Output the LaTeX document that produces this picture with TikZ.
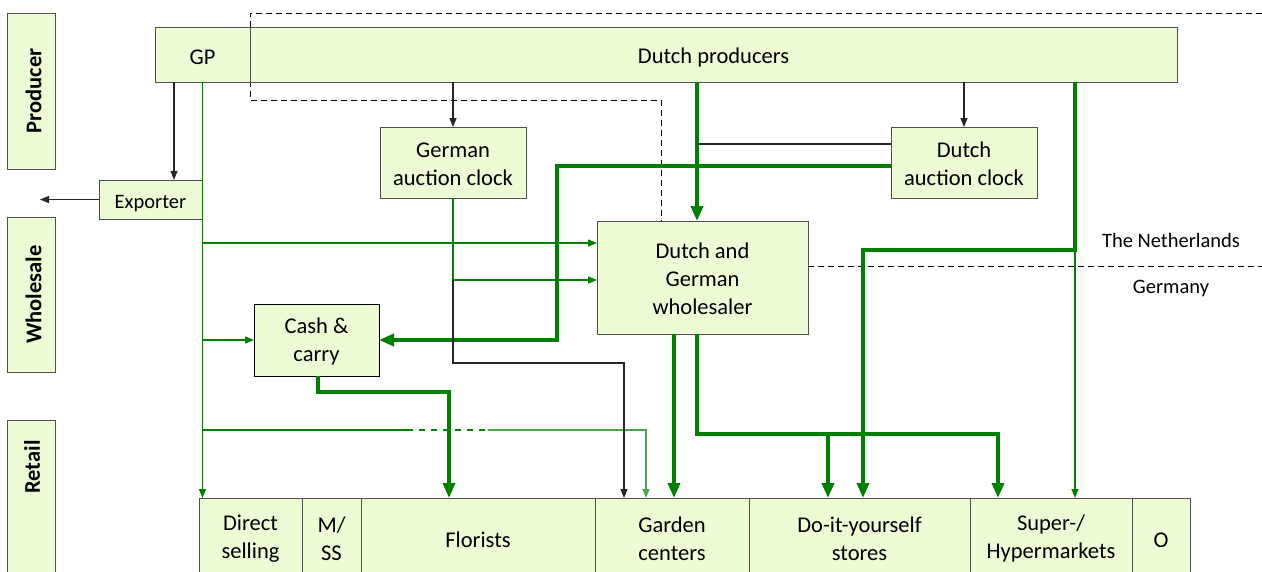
\documentclass[tikz,border=0pt]{standalone}
\usepackage{fontspec}
\setmainfont{Carlito}
\usetikzlibrary{arrows.meta,calc}
\definecolor{boxfill}{RGB}{238,252,214}
\definecolor{boxline}{RGB}{80,80,80}
\definecolor{flow}{RGB}{0,128,0}
\definecolor{flowlight}{RGB}{80,165,80}
\newcommand{\toplift}{\rule{0pt}{18.5pt}}
\begin{document}
\begin{tikzpicture}[x=1pt,y=-1pt,
  box/.style={draw=boxline,fill=boxfill,line width=1pt,inner sep=0pt,outer sep=0pt,align=center,font=\fontsize{22.5}{28}\selectfont,
    execute at begin node={\rule{0pt}{21pt}}},
  sidebox/.style={box,rotate=90,font=\fontsize{22.5}{28}\selectfont\bfseries},
  sidetext/.style={inner sep=0pt,rotate=90,font=\fontsize{22.5}{28}\selectfont\bfseries},
  smalltext/.style={inner sep=0pt,font=\fontsize{20.5}{24}\selectfont},
  thinflow/.style={draw=flow,line width=1.2pt},
  thinarrow/.style={thinflow,-{Triangle[length=9pt,width=7pt]}},
  lightarrow/.style={draw=flowlight,line width=1.4pt,-{Triangle[length=9pt,width=7pt]}},
  thickflow/.style={draw=flow,line width=3.5pt},
  thickarrow/.style={thickflow,-{Triangle[length=15pt,width=12pt]}},
  blkline/.style={draw=black!85,line width=1.2pt},
  blkarrow/.style={blkline,-{Triangle[length=9pt,width=7pt]}},
  dashline/.style={draw=black,line width=1pt,dash pattern=on 6pt off 4pt}
]
\useasboundingbox (0,0) rectangle (1262,571);
\clip (0,0) rectangle (1262,571);

% helper coordinates
\coordinate (ytop) at (0,13);
\coordinate (y100) at (0,100);
\coordinate (y144) at (0,144);
\coordinate (y166) at (0,166);
\coordinate (y243) at (0,243);
\coordinate (y250) at (0,250);
\coordinate (y266) at (0,266);
\coordinate (y280) at (0,280);
\coordinate (y363) at (0,363);
\coordinate (y392) at (0,392);
\coordinate (y430) at (0,430);
\coordinate (y434) at (0,434);
\coordinate (xA) at (174,0);
\coordinate (x318) at (318,0);
\coordinate (x449) at (449,0);
\coordinate (x557) at (557,0);
\coordinate (x624) at (624,0);
\coordinate (x646) at (646,0);
\coordinate (x661) at (661,0);
\coordinate (x674) at (674,0);
\coordinate (xW) at (697,0);
\coordinate (x828) at (828,0);
\coordinate (x863) at (863,0);
\coordinate (x998) at (998,0);
\coordinate (x1075) at (1075,0);
\coordinate (xR) at (1262,0);
\coordinate (expout) at (40,199.5);
\coordinate (d1) at (407,430);
\coordinate (d2) at (488,430);

% side labels
\node[sidebox,minimum width=156pt,minimum height=48pt] (prod) at (31,91) {Producer};
\node[sidebox,minimum width=155pt,minimum height=48pt] (whol) at (31,294.5) {Wholesale};
\node[sidebox,minimum width=180pt,minimum height=48pt] (ret) at (31,510) {};
\node[sidetext] (rettext) at (32,467) {Retail};

% dashed borders
\draw[dashline] (xR |- ytop) -- (250,13) -- (250,100) -- (x661 |- y100) -- (661,221);

% boxes
\node[box,minimum width=95pt,minimum height=55pt] (GP) at (202.5,54.5) {GP};
\node[box,minimum width=927pt,minimum height=55pt] (DP) at (713.5,54.5) {Dutch producers};
\node[box,minimum width=103pt,minimum height=39pt,font=\fontsize{20.5}{24}\selectfont] (EXP) at (150.5,199.5) {Exporter};
\node[box,minimum width=146pt,minimum height=71pt] (GAC) at (453,162.5) {\toplift German\\auction clock};
\node[box,minimum width=146pt,minimum height=71pt] (DAC) at (964,162.5) {\toplift Dutch\\auction clock};
\node[box,minimum width=211pt,minimum height=113pt] (WS) at (702.5,277.5) {\toplift Dutch and\\German\\wholesaler};
\node[box,draw=black,minimum width=125pt,minimum height=72pt] (CC) at (316.5,340) {\toplift Cash \&\\carry};

\node[box,minimum width=103pt,minimum height=79pt] (DS) at (250.5,537.5) {\toplift Direct\\selling};
\node[box,minimum width=59pt,minimum height=79pt] (MSS) at (331.5,537.5) {\toplift M/\\SS};
\node[box,minimum width=234pt,minimum height=79pt] (FL) at (478,537.5) {Florists};
\node[box,minimum width=154pt,minimum height=79pt] (GC) at (672,537.5) {\toplift Garden\\centers};
\node[box,minimum width=221pt,minimum height=79pt] (DIY) at (859.5,537.5) {\toplift Do-it-yourself\\stores};
\node[box,minimum width=162pt,minimum height=79pt] (SH) at (1051,537.5) {\toplift Super-/\\Hypermarkets};
\node[box,minimum width=58pt,minimum height=79pt] (O) at (1161,537.5) {O};

% country labels and border
\draw[dashline] (WS.east |- y266) -- (xR |- y266);
\node[smalltext] (NL) at (1171,240) {The Netherlands};
\node[smalltext] (DE) at (1171,288) {Germany};

% GP and exporter
\draw[blkarrow] (GP.south -| xA) -- (EXP.north -| xA);
\draw[blkarrow] (EXP.west) -- (expout);
\draw[thinarrow] (GP.south) -- (GP.south |- DS.north);
\draw[thinarrow] (GP.south |- y243) -- (WS.west |- y243);
\draw[thinarrow] (GP.south |- CC.west) -- (CC.west);
\draw[thinflow] (GP.south |- y430) -- (d1);
\draw[thinflow,dash pattern=on 6pt off 6pt] (d1) -- (d2);
\draw[lightarrow] (d2) -| (x646 |- GC.north);

% producers to auction clocks and wholesaler
\draw[blkarrow] (DP.south -| GAC.north) -- (GAC.north);
\draw[blkarrow] (DP.south -| DAC.north) -- (DAC.north);
\draw[thickarrow] (DP.south -| xW) -- (WS.north -| xW);
\draw[blkline] (DAC.west |- y144) -- (xW |- y144);
\draw[thickarrow] (DAC.west |- y166) -| (x557 |- CC.east) -- (CC.east);
\draw[thinarrow] (DP.south -| x1075) -- (SH.north -| x1075);
\draw[thickarrow] (DP.south -| x1075) -- (x1075 |- y250) -| (x863 |- DIY.north);

% German auction clock
\draw[thinflow] (GAC.south) -- (GAC.south |- y280);
\draw[thinarrow] (GAC.south |- y280) -- (WS.west |- y280);
\draw[blkarrow] (GAC.south |- y280) -- (GAC.south |- y363) -| (x624 |- GC.north);

% cash & carry and wholesaler to retail
\draw[thickarrow] (CC.south -| x318) -- (x318 |- y392) -| (x449 |- FL.north);
\draw[thickarrow] (WS.south -| x674) -- (x674 |- GC.north);
\draw[thickarrow] (WS.south -| xW) -- (xW |- y434) -| (x998 |- SH.north);
\draw[thickarrow] (x828 |- y434) -- (x828 |- DIY.north);
\end{tikzpicture}
\end{document}
